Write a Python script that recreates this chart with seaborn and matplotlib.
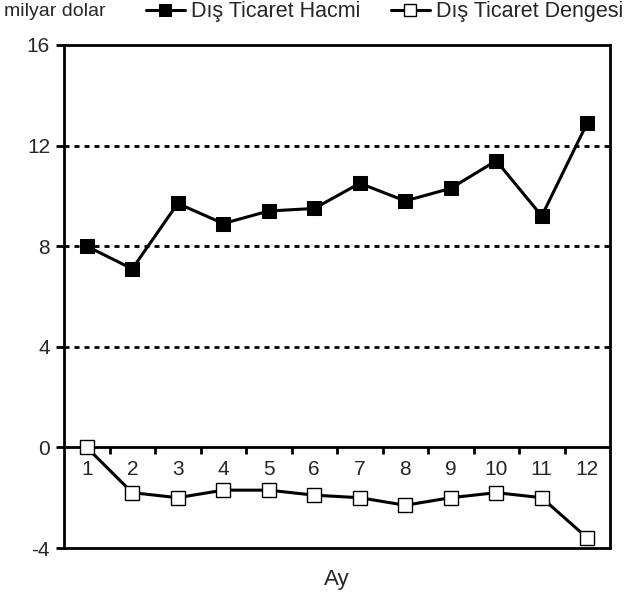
import pandas as pd
import matplotlib
matplotlib.use('Agg')
import matplotlib.pyplot as plt
import seaborn as sns

months = list(range(1, 13))
hacim = [8.0, 7.1, 9.7, 8.9, 9.4, 9.5, 10.5, 9.8, 10.3, 11.4, 9.2, 12.9]
denge = [0.0, -1.8, -2.0, -1.7, -1.7, -1.9, -2.0, -2.3, -2.0, -1.8, -2.0, -3.6]
yticks = [-4, 0, 4, 8, 12, 16]

sns.set_style('white')
plt.rcParams['font.family'] = ['Liberation Sans', 'DejaVu Sans']
plt.rcParams['axes.unicode_minus'] = False

df = pd.DataFrame({'Ay': months, 'hacim': hacim, 'denge': denge})

fig = plt.figure(figsize=(6.29, 5.98), dpi=100)
ax = fig.add_axes([64/629, 1-548/598, (610-64)/629, (548-45)/598])

# dotted grid lines
for v in [4, 8, 12]:
    ax.axhline(v, color='black', lw=2, linestyle=(0, (1.8, 1.8)), zorder=1)

sns.lineplot(data=df, x='Ay', y='hacim', ax=ax, color='black', lw=2.2,
             marker='s', markersize=10.5, markerfacecolor='black',
             markeredgecolor='black', label='Dış Ticaret Hacmi', zorder=3)
sns.lineplot(data=df, x='Ay', y='denge', ax=ax, color='black', lw=2.2,
             marker='s', markersize=10.5, markerfacecolor='white',
             markeredgecolor='black', markeredgewidth=1, label='Dış Ticaret Dengesi',
             zorder=3, clip_on=False)

ax.set_xlim(0.5, 12.5)
ax.set_ylim(-4, 16)
ax.set_yticks(yticks)
ax.tick_params(axis='y', direction='out', length=6, width=2, labelsize=15,
               left=True, pad=4, color='black')

# x axis sits on zero
ax.spines['bottom'].set_position(('data', 0))
for s in ax.spines.values():
    s.set_linewidth(2)
    s.set_color('black')
ax.axhline(-4, color='black', lw=2, clip_on=False, zorder=4)

ax.set_xticks([m + 0.5 for m in months[:-1]])
ax.set_xticklabels([])
ax.set_xticks(months, minor=True)
ax.set_xticklabels([str(m) for m in months], minor=True)
ax.tick_params(axis='x', which='major', direction='out', length=5, width=2,
               bottom=True, color='black')
ax.tick_params(axis='x', which='minor', length=0, labelsize=15, pad=9)

ax.set_xlabel('')
ax.set_ylabel('')
fig.text(0.5 * (64 + 610) / 629, 1 - 579/598, 'Ay', fontsize=16,
         ha='center', va='center')

fig.text(0.006, 1 - 12/598, 'milyar dolar', fontsize=14, va='center', ha='left')
ax.legend(loc='center right', bbox_to_anchor=(1.04, 1.0 + 33/503), ncol=2,
          frameon=False, fontsize=15.5, handlelength=1.8, handletextpad=0.3,
          columnspacing=1.4, borderaxespad=0, markerscale=0.85)

fig.savefig('out.png', dpi=100)
